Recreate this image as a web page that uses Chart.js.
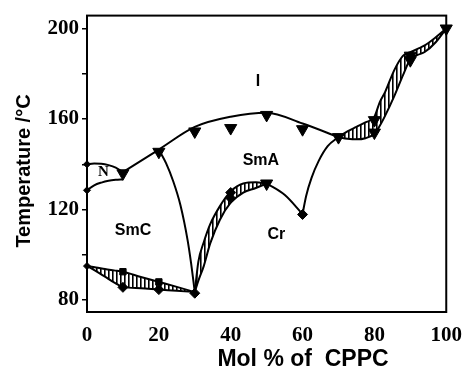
<!DOCTYPE html>
<html>
<head>
<meta charset="utf-8">
<script src="https://cdn.jsdelivr.net/npm/chart.js@4/dist/chart.umd.min.js"></script>
<style>
  html, body { margin: 0; padding: 0; background: #fff; }
</style>
</head>
<body>
<canvas id="phase" width="473" height="377"></canvas>
<script>
// axis ticks
var tickX = [0, 20, 40, 60, 80, 100];
var tickY = [80, 120, 160, 200];

// N region (0-10)
var nX     = [0, 2, 4, 6, 8, 10];
var nUpper = [140, 140.3, 140.2, 139.6, 138.5, 136.5];
var nLower = [128.5, 130.7, 131.9, 132.7, 133.1, 133.3];

// N -> SmA straight part and I / SmA clearing curve
var nsX = [10, 20];
var nsT = [136.5, 146.5];
var clearX = [20, 30, 40, 50, 60, 70];
var clearT = [146.5, 156.5, 161, 162.8, 158, 152];

// SmC / SmA boundary
var cxX = [20, 22, 24, 26, 28, 29, 30];
var cxT = [146.5, 140.5, 132.5, 122, 106.5, 96, 83.5];

// lower-left biphasic band (SmC / Cr)
var lowX     = [0, 2.5, 5, 7.5, 10, 15, 20, 25, 30];
var lowUpper = [95, 94.4, 93.7, 93.1, 92.5, 90.2, 88, 85.8, 83.5];
var lowLower = [95, 92.8, 90.3, 87.8, 85.8, 85.2, 84.6, 84.1, 83.5];

// middle biphasic band (Cr / SmA)
var midX     = [30, 31, 32.5, 34.3, 37, 40, 43.5, 47, 50];
var midUpper = [83.5, 97, 105.5, 113.5, 121.5, 128, 131.5, 132, 131.5];
var midLower = [83.5, 88.5, 95, 105, 115.5, 123, 127.5, 129.5, 131.5];

// Cr curve 50-60 and rising branch 60-70
var crX = [50, 55, 60];
var crT = [131.5, 126.5, 118];
var riseX = [60, 61, 62.5, 64.5, 67, 70];
var riseT = [118, 126, 134, 141.5, 148, 152];

// right biphasic band (70-100)
var hiX     = [70, 72.5, 75, 77.5, 80, 81.5, 83, 85.5, 88, 90, 92, 94, 97, 100];
var hiUpper = [152, 154.5, 156.5, 158.5, 161, 167.5, 172, 181.5, 188, 189.5, 191, 192.5, 196, 200];
var hiLower = [152, 151.3, 151, 151.5, 153.5, 157, 161.5, 170, 179.5, 186.5, 188.3, 189.6, 193.8, 200];

// measured points
var triX = [10, 20, 30, 40, 50, 60, 70, 80, 80, 90, 90, 100, 50];
var triT = [136, 145.5, 154.5, 156, 161.8, 155.5, 152, 159.5, 154, 188, 186, 200, 131.5];
var sqX = [10, 20];
var sqT = [92.5, 88];
var diaX = [10, 20, 30, 40, 40, 60];
var diaT = [85.6, 84.6, 83, 125, 127.5, 117.8];
var edgeX = [0, 0, 0];
var edgeT = [140, 128.5, 95];

// phase labels
var phaseNames = ['I', 'N', 'SmA', 'SmC', 'Cr'];
var phaseX = [47.6, 4.6, 48.4, 12.8, 52.7];
var phaseT = [176.7, 136.3, 141.5, 110.5, 109];

var canvas = document.getElementById('phase');
var ctx = canvas.getContext('2d');

function stripes(){
  var c = document.createElement('canvas');
  c.width = 4; c.height = 4;
  var g = c.getContext('2d');
  g.fillStyle = '#000';
  g.fillRect(0, 0, 1.6, 4);
  return ctx.createPattern(c, 'repeat');
}
var hatch = stripes();

function pts(xs, ys){
  return xs.map(function(x, i){ return { x: x, y: ys[i] }; });
}

function curve(xs, ys, fill){
  return {
    type: 'line',
    data: pts(xs, ys),
    borderColor: '#000',
    borderWidth: 2,
    pointRadius: 0,
    fill: fill ? '+1' : false,
    backgroundColor: fill ? hatch : 'transparent',
    cubicInterpolationMode: 'monotone'
  };
}

function marks(xs, ys, style, radius, rotation){
  return {
    type: 'scatter',
    data: pts(xs, ys),
    pointStyle: style,
    pointRadius: radius,
    pointRotation: rotation || 0,
    backgroundColor: '#000',
    borderColor: '#000',
    borderWidth: 1,
    clip: false
  };
}

var boxAndText = {
  id: 'boxAndText',
  afterDraw: function(chart){
    var a = chart.chartArea, c = chart.ctx;
    var sx = chart.scales.x, sy = chart.scales.y;
    c.save();
    c.strokeStyle = '#000';
    c.lineWidth = 2;
    c.strokeRect(a.left, a.top, a.right - a.left, a.bottom - a.top);

    c.fillStyle = '#000';
    c.textAlign = 'center';
    c.textBaseline = 'middle';
    phaseNames.forEach(function(name, i){
      c.font = name === 'N' ? 'bold 15px "Liberation Serif"' : 'bold 16px "Liberation Sans", Arial';
      c.fillText(name, sx.getPixelForValue(phaseX[i]), sy.getPixelForValue(phaseT[i]));
    });

    c.font = 'bold 23px "Liberation Sans", Arial';
    c.fillText('Mol % of  CPPC', 303, 360);

    c.translate(24, 171);
    c.rotate(-Math.PI / 2);
    c.font = 'bold 20px "Liberation Sans", Arial';
    c.fillText('Temperature /\u00B0C', 0, 0);
    c.restore();
  }
};

new Chart(canvas, {
  type: 'line',
  data: {
    datasets: [
      curve(nX, nUpper, false),
      curve(nX, nLower, false),
      curve(nsX, nsT, false),
      curve(clearX, clearT, false),
      curve(cxX, cxT, false),
      curve(lowX, lowUpper, true),
      curve(lowX, lowLower, false),
      curve(midX, midUpper, true),
      curve(midX, midLower, false),
      curve(crX, crT, false),
      curve(riseX, riseT, false),
      curve(hiX, hiUpper, true),
      curve(hiX, hiLower, false),
      marks(triX, triT, 'triangle', 7, 180),
      marks(sqX, sqT, 'rect', 4.5),
      marks(diaX, diaT, 'rectRot', 5),
      marks(edgeX, edgeT, 'rectRot', 3.5)
    ]
  },
  options: {
    responsive: false,
    animation: false,
    layout: { padding: { top: 15, right: 17, left: 0, bottom: 0 } },
    plugins: { legend: { display: false }, tooltip: { enabled: false } },
    scales: {
      x: {
        type: 'linear',
        min: 0,
        max: 100,
        afterFit: function(s){ s.height = 65; },
        afterBuildTicks: function(s){ s.ticks = tickX.map(function(v){ return { value: v }; }); },
        grid: { drawOnChartArea: false, drawTicks: false },
        border: { display: false },
        ticks: {
          padding: 11,
          color: '#000',
          font: { family: '"Liberation Serif", "Times New Roman", serif', size: 21, weight: 'bold' }
        }
      },
      y: {
        type: 'linear',
        min: 74.7,
        max: 205.7,
        afterFit: function(s){ s.width = 87; },
        grid: { drawOnChartArea: false, drawTicks: true, tickLength: 5, color: '#000', lineWidth: 1.5 },
        border: { display: false },
        ticks: {
          stepSize: 20,
          includeBounds: false,
          padding: 3,
          color: '#000',
          font: { family: '"Liberation Serif", "Times New Roman", serif', size: 21, weight: 'bold' },
          callback: function(v){ return tickY.indexOf(v) >= 0 ? String(v) : ''; }
        }
      }
    }
  },
  plugins: [boxAndText]
});
</script>
</body>
</html>
